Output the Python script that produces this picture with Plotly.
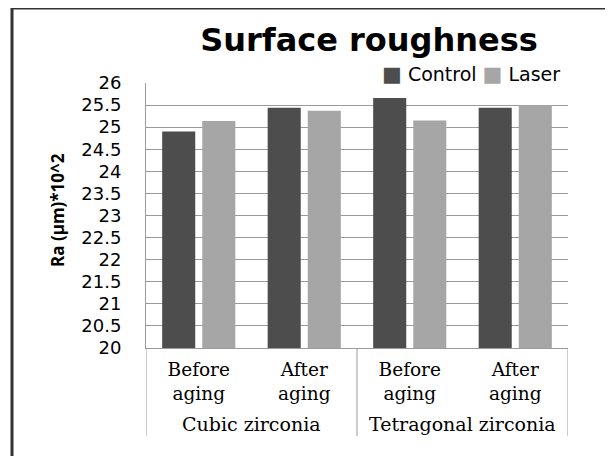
import plotly.graph_objects as go

materials = ["Cubic zirconia", "Cubic zirconia", "Tetragonal zirconia", "Tetragonal zirconia"]
stages = ["Before<br>aging", "After<br>aging", "Before<br>aging", "After<br>aging"]
control = [24.90, 25.44, 25.66, 25.44]
laser = [25.14, 25.37, 25.15, 25.50]
y_ticks = [20, 20.5, 21, 21.5, 22, 22.5, 23, 23.5, 24, 24.5, 25, 25.5, 26]

OFF = 8  # page body margin
W, H = 613 - OFF, 456 - OFF
L, R, T, B = 146 - OFF, 613 - 568, 83 - OFF, 456 - 348
pw, ph = W - L - R, H - T - B

def px(x):
    return (x - OFF - L) / pw

def py(y):
    return (H - B - (y - OFF)) / ph

pos = list(range(len(stages)))

fig = go.Figure()
fig.add_trace(go.Bar(name="Control", x=pos, y=control,
                     marker=dict(color="#4d4d4d", line=dict(width=0))))
fig.add_trace(go.Bar(name="Laser", x=pos, y=laser,
                     marker=dict(color="#a6a6a6", line=dict(width=0))))

grid = "#9a9a9a"
sq = '<span style="font-size:21px">■</span>'
legend_text = (f'<span style="color:#4d4d4d">{sq}</span> Control '
               f'<span style="color:#a6a6a6">{sq}</span> Laser')

# group labels and dividers, derived from the material list
groups = []
for i, m in enumerate(materials):
    if not groups or groups[-1][0] != m:
        groups.append([m, i, i])
    else:
        groups[-1][2] = i

annotations = [dict(text=legend_text, xref="paper", yref="paper",
                    x=px(562), xanchor="right", y=py(74), yanchor="middle",
                    showarrow=False,
                    font=dict(family="DejaVu Sans", size=19, color="black"))]
shapes = []
for m, a, b in groups:
    annotations.append(dict(text=m, xref="x", yref="paper", x=(a + b) / 2,
                            y=py(424), xanchor="center", yanchor="middle",
                            showarrow=False,
                            font=dict(family="DejaVu Serif", size=19, color="black")))
bounds = [groups[0][1] - 0.5] + [b + 0.5 for _, _, b in groups]
for bx in bounds:
    shapes.append(dict(type="line", xref="x", yref="paper", x0=bx, x1=bx,
                       y0=0, y1=py(436), line=dict(color=grid, width=1)))

shapes += [
    dict(type="line", xref="paper", yref="paper", x0=px(11), x1=px(610),
         y0=py(8), y1=py(8), line=dict(color="#333333", width=3)),
    dict(type="line", xref="paper", yref="paper", x0=px(12), x1=px(12),
         y0=py(8), y1=py(470), line=dict(color="#333333", width=3)),
    dict(type="line", xref="paper", yref="paper", x0=px(609), x1=px(609),
         y0=py(9), y1=py(470), line=dict(color="#cccccc", width=1)),
]

annotations.append(dict(text="<b>Ra (µm)*10^2</b>", xref="paper", yref="paper",
                        x=px(57), y=py(210), xanchor="center", yanchor="middle",
                        textangle=-90, showarrow=False,
                        font=dict(family="Open Sans", size=17, color="black")))

fig.update_layout(
    width=W, height=H,
    margin=dict(l=L, r=R, t=T, b=B, pad=0),
    paper_bgcolor="white", plot_bgcolor="white",
    barmode="group", bargap=0.24, bargroupgap=0.175,
    title=dict(text="<b>Surface roughness</b>", x=(369 - OFF) / W, xanchor="center",
               y=1 - (40 - OFF) / H, yanchor="middle",
               font=dict(family="DejaVu Sans", size=32, color="black")),
    showlegend=False,
    annotations=annotations,
    shapes=shapes,
    xaxis=dict(range=[-0.5, len(stages) - 0.5], tickvals=pos, ticktext=stages,
               showline=True, linecolor=grid, linewidth=1,
               showgrid=False, ticks="", zeroline=False, ticklabelstandoff=5,
               tickfont=dict(family="DejaVu Serif", size=18.5, color="black")),
    yaxis=dict(range=[20, 26], tickvals=y_ticks, ticktext=[f"{v:g}" for v in y_ticks],
               showgrid=True, gridcolor=grid, gridwidth=1, showline=True,
               linecolor=grid, linewidth=1, ticks="", ticklabelstandoff=20,
               zeroline=False,
               tickfont=dict(family="DejaVu Sans", size=18, color="black")),
)

fig.write_html("out.html")
